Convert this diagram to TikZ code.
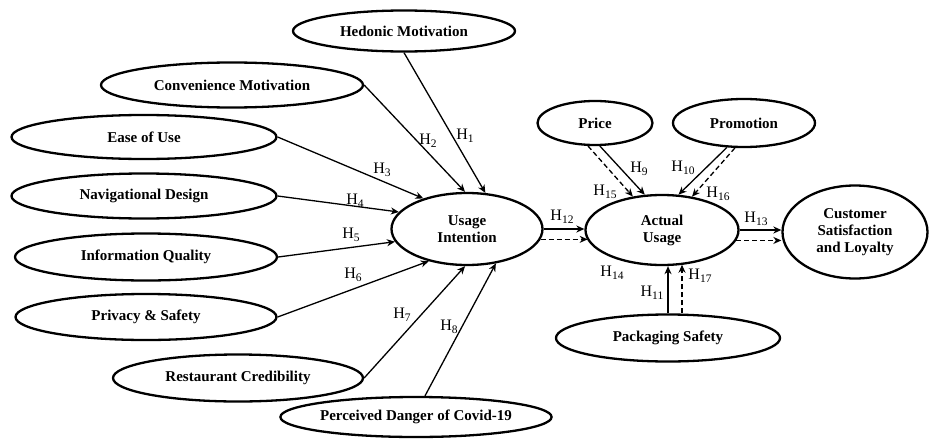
\documentclass[tikz,border=0pt]{standalone}
\usepackage{fontspec}
\setmainfont{Liberation Serif}
\usetikzlibrary{shapes.geometric,arrows.meta}
\newcommand\hyp[1]{H\raisebox{-3pt}{\fontsize{11.5}{12}\selectfont #1}}
\begin{document}
\begin{tikzpicture}[x=1pt,y=-1pt,
  ell/.style={ellipse, draw, line width=2.3pt, inner sep=0pt, align=center,
    font=\fontsize{15}{17}\selectfont\bfseries},
  arr/.style={line width=1.3pt, -{Stealth[length=8pt,width=7pt,inset=2.5pt]}},
  darr/.style={arr, dash pattern=on 5pt off 3pt},
  lab/.style={inner sep=0pt, font=\fontsize{16}{17}\selectfont}]
\fill[white] (0,0) rectangle (929,439);
\useasboundingbox (0,0) rectangle (929,439);
% nodes
\node[ell, minimum width=222, minimum height=41] (hed) at (404,31) {Hedonic Motivation};
\node[ell, minimum width=262, minimum height=45] (con) at (232,85) {Convenience Motivation};
\node[ell, minimum width=265, minimum height=44] (ease) at (144,137) {Ease of Use};
\node[ell, minimum width=265, minimum height=45] (nav) at (144,196) {Navigational Design};
\node[ell, minimum width=262, minimum height=47] (info) at (146,257) {Information Quality};
\node[ell, minimum width=261, minimum height=46] (priv) at (146,317) {Privacy \& Safety};
\node[ell, minimum width=250, minimum height=47] (rest) at (238,378) {Restaurant Credibility};
\node[ell, minimum width=263, minimum height=40] (perc) at (416,417) {Perceived Danger of Covid-19};
\node[ell, minimum width=151, minimum height=72] (ui) at (467,229) {Usage\\Intention};
\node[ell, minimum width=153, minimum height=70] (au) at (662,230) {Actual\\Usage};
\node[ell, minimum width=145, minimum height=93] (cs) at (855,232) {Customer\\Satisfaction\\and Loyalty};
\node[ell, minimum width=115, minimum height=44] (pr) at (595,123) {Price};
\node[ell, minimum width=142, minimum height=48] (pm) at (744,123) {Promotion};
\node[ell, minimum width=224, minimum height=47] (pk) at (668,338) {Packaging Safety};
% connectors to usage intention
\draw[arr] (hed.south) -- (ui.63);
\draw[arr] (con.east) -- (ui.93);
\draw[arr] (ease.east) -- (ui.145);
\draw[arr] (nav.east) -- (ui.166);
\draw[arr] (info.east) -- (ui.190);
\draw[arr] (priv.east) -- (ui.220);
\draw[arr] (rest.east) -- (ui.267);
\draw[arr] ([xshift=9pt]perc.north) -- (ui.310);
% usage intention -> actual usage
\draw[arr] (ui.east) -- (ui.east -| au.west);
\draw[darr] (ui.-8) -- (ui.-8 -| au.188);
% actual usage -> customer
\draw[arr] (au.east) -- (au.east -| cs.west);
\draw[darr] (au.-8) -- (au.-8 -| cs.west);
% price, promotion
\draw[arr] (pr.282) -- (au.116);
\draw[darr] (pr.253) -- (au.131);
\draw[arr] (pm.235) -- (au.65);
\draw[darr] (pm.250) -- (au.48);
% packaging
\draw[arr] (pk.north) -- (pk.north |- au.south);
\draw[darr] ([xshift=14pt]pk.north) -- ([xshift=14pt]pk.north |- au.302);
% labels
\node[lab] (h1) at (465,136) {\hyp{1}};
\node[lab] (h2) at (428,141) {\hyp{2}};
\node[lab] (h3) at (382,170) {\hyp{3}};
\node[lab] (h4) at (355,201) {\hyp{4}};
\node[lab] (h5) at (351,235) {\hyp{5}};
\node[lab] (h6) at (353,275) {\hyp{6}};
\node[lab] (h7) at (402,315) {\hyp{7}};
\node[lab] (h8) at (449,327) {\hyp{8}};
\node[lab] (h9) at (639,169) {\hyp{9}};
\node[lab] (h10) at (683,168) {\hyp{10}};
\node[lab] (h15) at (605,192) {\hyp{15}};
\node[lab] (h16) at (718,194) {\hyp{16}};
\node[lab] (h12) at (562,217) {\hyp{12}};
\node[lab] (h13) at (756,219) {\hyp{13}};
\node[lab] (h14) at (612,273) {\hyp{14}};
\node[lab] (h11) at (652,293) {\hyp{11}};
\node[lab] (h17) at (700,276) {\hyp{17}};
\end{tikzpicture}
\end{document}
